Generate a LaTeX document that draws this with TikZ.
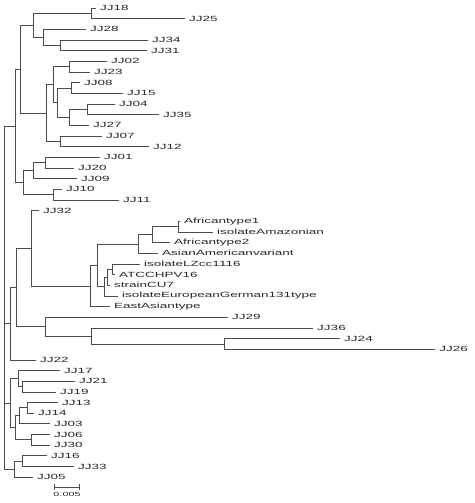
\documentclass[tikz,border=0pt]{standalone}
\usepackage{fontspec}
\newfontfamily\leaffont[FakeStretch=1.8]{Liberation Sans}
\usetikzlibrary{arrows}

\begin{document}
\begin{tikzpicture}[x=1pt,y=-10.66pt,
	leaf/.style={anchor=west,inner xsep=4pt,inner ysep=1pt,text=black!85,
		font=\leaffont\fontsize{7.5}{9}\selectfont},
	tree/.style={every edge/.style={draw,black!70,line width=0.6pt,
		to path={|- (\tikztotarget)}}}]
	\useasboundingbox (0,-0.75) rectangle (474,46.43);
	%
	\node[leaf] (JJ18) at (96,0) {JJ18};
	\node[leaf] (JJ25) at (185,1) {JJ25};
	\node[leaf] (JJ28) at (86,2) {JJ28};
	\node[leaf] (JJ34) at (148,3) {JJ34};
	\node[leaf] (JJ31) at (147,4) {JJ31};
	\node[leaf] (JJ02) at (107,5) {JJ02};
	\node[leaf] (JJ23) at (90,6) {JJ23};
	\node[leaf] (JJ08) at (80,7) {JJ08};
	\node[leaf] (JJ15) at (123,8) {JJ15};
	\node[leaf] (JJ04) at (115,9) {JJ04};
	\node[leaf] (JJ35) at (159,10) {JJ35};
	\node[leaf] (JJ27) at (89,11) {JJ27};
	\node[leaf] (JJ07) at (102,12) {JJ07};
	\node[leaf] (JJ12) at (149,13) {JJ12};
	\node[leaf] (JJ01) at (100,14) {JJ01};
	\node[leaf] (JJ20) at (74,15) {JJ20};
	\node[leaf] (JJ09) at (77,16) {JJ09};
	\node[leaf] (JJ10) at (62,17) {JJ10};
	\node[leaf] (JJ11) at (119,18) {JJ11};
	\node[leaf] (JJ32) at (39,19) {JJ32};
	\node[leaf] (Af1) at (180,20) {Africantype1};
	\node[leaf] (Amaz) at (213,21) {isolateAmazonian};
	\node[leaf] (Af2) at (170,22) {Africantype2};
	\node[leaf] (AsAm) at (158,23) {AsianAmericanvariant};
	\node[leaf] (LZcc) at (140,24) {isolateLZcc1116};
	\node[leaf] (ATCC) at (115,25) {ATCCHPV16};
	\node[leaf] (CU7) at (110,26) {strainCU7};
	\node[leaf] (EuGer) at (118,27) {isolateEuropeanGerman131type};
	\node[leaf] (EAs) at (110,28) {EastAsiantype};
	\node[leaf] (JJ29) at (228,29) {JJ29};
	\node[leaf] (JJ36) at (313,30) {JJ36};
	\node[leaf] (JJ24) at (340,31) {JJ24};
	\node[leaf] (JJ26) at (435,32) {JJ26};
	\node[leaf] (JJ22) at (36,33) {JJ22};
	\node[leaf] (JJ17) at (60,34) {JJ17};
	\node[leaf] (JJ21) at (75,35) {JJ21};
	\node[leaf] (JJ19) at (56,36) {JJ19};
	\node[leaf] (JJ13) at (58,37) {JJ13};
	\node[leaf] (JJ14) at (34,38) {JJ14};
	\node[leaf] (JJ03) at (50,39) {JJ03};
	\node[leaf] (JJ06) at (50,40) {JJ06};
	\node[leaf] (JJ30) at (50,41) {JJ30};
	\node[leaf] (JJ16) at (47,42) {JJ16};
	\node[leaf] (JJ33) at (74,43) {JJ33};
	\node[leaf] (JJ05) at (33,44) {JJ05};
	%
	\coordinate (root) at (4,11.05);
	\coordinate (nA) at (15,11.05);
	\coordinate (nB) at (20,5.73);
	\coordinate (nD) at (33,1.625);
	\coordinate (n1825) at (91,0.5);
	\coordinate (nF) at (43,2.75);
	\coordinate (n3431) at (60,3.5);
	\coordinate (nE) at (46,9.84);
	\coordinate (nG) at (53,7.19);
	\coordinate (n0223) at (69,5.5);
	\coordinate (nH) at (57,8.875);
	\coordinate (n0815) at (71,7.5);
	\coordinate (nI) at (69,10.25);
	\coordinate (n0435) at (87,9.5);
	\coordinate (n0712) at (60,12.5);
	\coordinate (nC) at (23,16.375);
	\coordinate (nJ) at (33,15.25);
	\coordinate (n0120) at (45,14.5);
	\coordinate (n1011) at (53,17.5);
	\coordinate (nK) at (10,29.6);
	\coordinate (nL) at (16,26.2);
	\coordinate (nM) at (31,22.53);
	\coordinate (nO) at (90,26.06);
	\coordinate (nP) at (97,24.125);
	\coordinate (nQ) at (138,22.125);
	\coordinate (nS) at (152,21.25);
	\coordinate (nAfr) at (178,20.5);
	\coordinate (nR) at (104,26.125);
	\coordinate (nU) at (107,25.25);
	\coordinate (nV) at (112,24.5);
	\coordinate (nN) at (45,29.875);
	\coordinate (nW) at (91,30.75);
	\coordinate (n2426) at (224,31.5);
	\coordinate (nY) at (10,37.06);
	\coordinate (nZ) at (18,34.75);
	\coordinate (n2119) at (22,35.5);
	\coordinate (nAA) at (15,39.375);
	\coordinate (nAB) at (19,38.25);
	\coordinate (n1314) at (27,37.5);
	\coordinate (n0630) at (31,40.5);
	\coordinate (nAC) at (14,43.25);
	\coordinate (n1633) at (22,42.5);
	%
	\path[tree]
		(root) edge (nA) (root) edge (nK) (root) edge (nY) (root) edge (nAC)
		(nA) edge (nB) (nA) edge (nC)
		(nB) edge (nD) (nB) edge (nE)
		(nD) edge (n1825) (nD) edge (nF)
		(n1825) edge (JJ18) (n1825) edge (JJ25)
		(nF) edge (JJ28) (nF) edge (n3431)
		(n3431) edge (JJ34) (n3431) edge (JJ31)
		(nE) edge (nG) (nE) edge (n0712)
		(nG) edge (n0223) (nG) edge (nH)
		(n0223) edge (JJ02) (n0223) edge (JJ23)
		(nH) edge (n0815) (nH) edge (nI)
		(n0815) edge (JJ08) (n0815) edge (JJ15)
		(nI) edge (n0435) (nI) edge (JJ27)
		(n0435) edge (JJ04) (n0435) edge (JJ35)
		(n0712) edge (JJ07) (n0712) edge (JJ12)
		(nC) edge (nJ) (nC) edge (n1011)
		(nJ) edge (n0120) (nJ) edge (JJ09)
		(n0120) edge (JJ01) (n0120) edge (JJ20)
		(n1011) edge (JJ10) (n1011) edge (JJ11);
	\path[tree]
		(nK) edge (nL) (nK) edge (JJ22)
		(nL) edge (nM) (nL) edge (nN)
		(nM) edge (JJ32) (nM) edge (nO)
		(nO) edge (nP) (nO) edge (EAs)
		(nP) edge (nQ) (nP) edge (nR)
		(nQ) edge (nS) (nQ) edge (AsAm)
		(nS) edge (nAfr) (nS) edge (Af2)
		(nAfr) edge (Af1) (nAfr) edge (Amaz)
		(nR) edge (nU) (nR) edge (EuGer)
		(nU) edge (nV) (nU) edge (CU7)
		(nV) edge (LZcc) (nV) edge (ATCC)
		(nN) edge (JJ29) (nN) edge (nW)
		(nW) edge (JJ36) (nW) edge (n2426)
		(n2426) edge (JJ24) (n2426) edge (JJ26);
	\path[tree]
		(nY) edge (nZ) (nY) edge (nAA)
		(nZ) edge (JJ17) (nZ) edge (n2119)
		(n2119) edge (JJ21) (n2119) edge (JJ19)
		(nAA) edge (nAB) (nAA) edge (n0630)
		(nAB) edge (n1314) (nAB) edge (JJ03)
		(n1314) edge (JJ13) (n1314) edge (JJ14)
		(n0630) edge (JJ06) (n0630) edge (JJ30)
		(nAC) edge (n1633) (nAC) edge (JJ05)
		(n1633) edge (JJ16) (n1633) edge (JJ33);
	%
	\coordinate (barL) at (54,44.93);
	\coordinate (barR) at (80,44.93);
	\draw[|-|,black!70,line width=0.6pt] (barL) -- (barR);
	\node[font=\leaffont\fontsize{6}{7}\selectfont,text=black!85] (barlabel) at (67,45.6) {0.005};
\end{tikzpicture}
\end{document}
